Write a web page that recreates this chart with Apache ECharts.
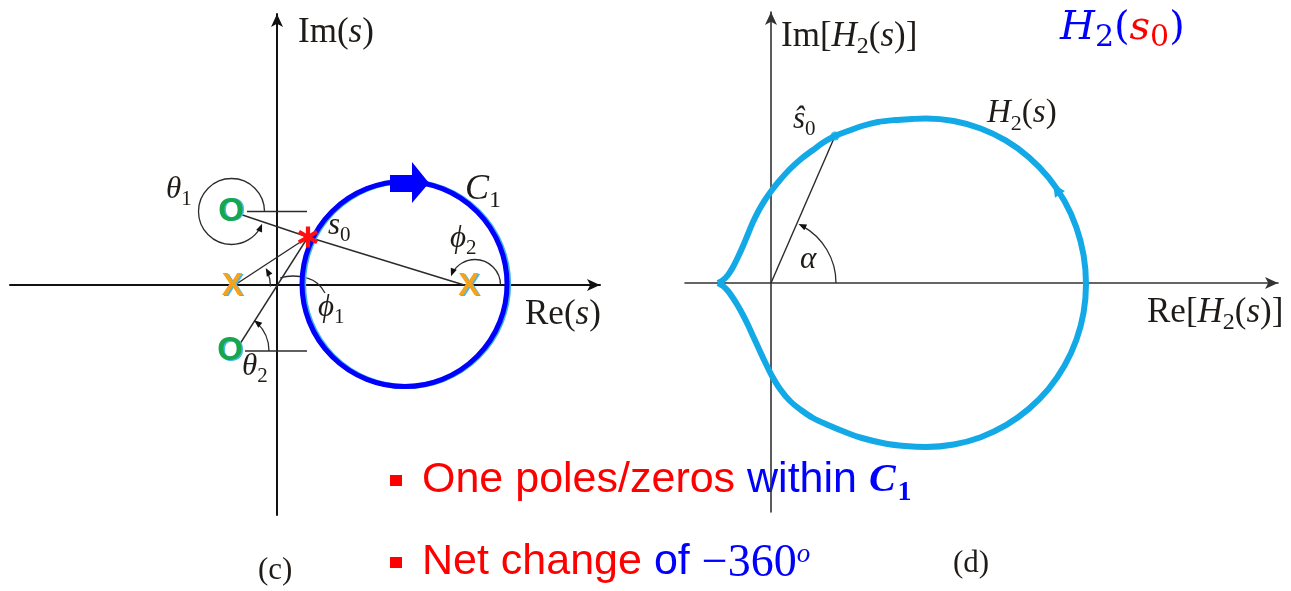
<!DOCTYPE html>
<html>
<head>
<meta charset="utf-8">
<script src="https://cdn.jsdelivr.net/npm/echarts@6/dist/echarts.min.js"></script>
<style>
  html, body { margin: 0; padding: 0; background: #fff; }
  #chart { width: 1291px; height: 591px; }
</style>
</head>
<body>
<div id="chart"></div>
<script>
// ---- Panel (c): s-plane, contour C1 -------------------------------------
const zerosC = [[-4.6, 7.35], [-4.7, -6.6]];
const polesC = [[-4.45, -0.15], [19.2, -0.15]];
const pointS0 = [[3.1, 4.8]];
const contourC1 = [[12.75, 0.1, 10.25]];            // centre x, centre y, radius
const contourArrow = [[11.3, 9.3, 13.5, 9.3, 13.5, 8.2, 15.2, 10.2, 13.5, 12.3, 13.5, 11.0, 11.3, 11.0]];
const segmentsC = [
  [-3.6, 7.05, 3.1, 4.8],     // zero 1 -> s0
  [19.2, -0.15, 3.1, 4.8],    // pole 2 -> s0
  [-4.45, -0.15, 3.1, 4.8],   // pole 1 -> s0
  [-3.9, -6.2, 3.1, 4.8],     // zero 2 -> s0
  [-3.0, 7.35, 3.0, 7.35],    // reference for theta 1
  [-3.2, -6.6, 3.0, -6.6]     // reference for theta 2
];
const anglesC = [               // centre x, centre y, radius, from deg, to deg
  [-4.55, 7.35, 3.3, 0, 338],
  [-4.45, -0.15, 3.8, 0, 29],
  [-4.7, -6.6, 3.9, 0, 52],
  [19.8, 0.0, 2.55, 0, 160]
];
const phi1Leader = [[0.3, 0.7], [1.6, 0.9], [3.0, 0.7], [4.0, 0.2], [4.8, -0.8]];

// ---- Panel (d): image of C1 under H2 (traversed counter-clockwise) -------
const h2Curve = [
  [-5.3, 0.0], [-4.8, -0.3], [-4.3, -0.8], [-3.8, -1.5], [-3.3, -2.3],
  [-2.8, -3.2], [-2.3, -4.2], [-1.8, -5.3], [-1.2, -6.6], [-0.6, -7.9],
  [0.1, -9.3], [0.9, -10.6], [1.9, -11.8], [3.0, -12.7], [4.2, -13.5],
  [5.7, -14.2], [7.4, -14.9], [9.1, -15.5], [11.4, -16.05], [13.4, -16.3],
  [15.5, -16.4], [18.28, -16.15], [20.97, -15.42], [23.5, -14.22], [25.78, -12.59],
  [27.76, -10.58], [29.36, -8.25], [30.54, -5.67], [31.26, -2.95], [31.5, -0.1],
  [31.26, 2.77], [30.54, 5.56], [29.36, 8.17], [27.76, 10.54], [25.78, 12.58],
  [23.5, 14.23], [20.97, 15.45], [18.28, 16.2], [15.5, 16.45], [14.1, 16.4],
  [12.4, 16.3], [10.7, 16.1], [9.1, 15.7], [7.7, 15.2], [6.4, 14.7],
  [5.3, 14.1], [4.2, 13.3], [3.0, 12.4], [1.9, 11.4], [0.9, 10.3],
  [0.1, 9.3], [-0.6, 8.3], [-1.2, 7.3], [-1.8, 6.1], [-2.3, 4.9],
  [-2.8, 3.7], [-3.3, 2.6], [-3.8, 1.6], [-4.3, 0.8], [-4.8, 0.3],
  [-5.3, 0.0]
];
const sHat0 = [[6.4, 14.7]];
const segmentsD = [[0, 0, 6.4, 14.7]];
const anglesD = [[0, 0, 6.5, 0, 65]];
const h2ArrowAt = 33;
const h2Arrow = [[...h2Curve[h2ArrowAt], ...h2Curve[h2ArrowAt - 1]]];

// ---- axis extents ---------------------------------------------------------
const extentC = { xMin: -26.7, xMax: 32.3, yMin: -23.0, yMax: 27.1 };
const extentD = { xMin: -8.6, xMax: 50.7, yMin: -22.9, yMax: 27.1 };

// ---- styling helpers ------------------------------------------------------
const SERIF = "'Liberation Serif', 'Times New Roman', serif";
const SANS = "'Liberation Sans', Arial, sans-serif";
const MATH = "'DejaVu Serif', serif";
const INK = '#1f1b18';
const LINE = '#2b2b2b';
const CURVE = '#12a9e6';
const BLUE = '#0000ff';
const RED = '#ff0000';

// rich-text tokens are top aligned; subscripts are pushed down with top padding
function serifRich(s) {
  const base = { fontFamily: SERIF, fontSize: s, verticalAlign: 'top', fill: INK };
  return {
    n: base,
    i: Object.assign({}, base, { fontStyle: 'italic' }),
    b: Object.assign({}, base, { fontSize: Math.round(s * 0.68), padding: [Math.round(s * 0.47), 0, 0, 0] })
  };
}

const labelsC = [
  { at: [2.1, 27.0], s: 35, text: '{n|Im(}{i|s}{n|)}' },
  { at: [24.8, -1.2], s: 35, text: '{n|Re(}{i|s}{n|)}' },
  { at: [-11.1, 11.1], s: 31, text: '{i|θ}{b|1}' },
  { at: [-3.5, -6.6], s: 31, text: '{i|θ}{b|2}' },
  { at: [4.1, -0.7], s: 31, text: '{i|ϕ}{b|1}' },
  { at: [17.3, 6.2], s: 31, text: '{i|ϕ}{b|2}' },
  { at: [5.1, 7.5], s: 31, text: '{i|s}{b|0}' },
  { at: [18.8, 11.3], s: 36, text: '{i|C}{b|1}' }
];
const labelsD = [
  { at: [1.0, 26.4], s: 35, text: '{n|Im[}{i|H}{b|2}{n|(}{i|s}{n|)]}' },
  { at: [37.6, -1.2], s: 35, text: '{n|Re[}{i|H}{b|2}{n|(}{i|s}{n|)]}' },
  { at: [2.2, 17.9], s: 31, text: '{i|ŝ}{b|0}' },
  { at: [21.6, 18.6], s: 33, text: '{i|H}{b|2}{n|(}{i|s}{n|)}' },
  { at: [2.9, 3.9], s: 31, text: '{i|α}' }
];

// ---- render functions -----------------------------------------------------
function segmentItem(params, api) {
  const a = api.coord([api.value(0), api.value(1)]);
  const b = api.coord([api.value(2), api.value(3)]);
  return { type: 'line', shape: { x1: a[0], y1: a[1], x2: b[0], y2: b[1] },
           style: { stroke: LINE, lineWidth: 1.4 } };
}

function arrowHead(tip, dir, len, half, color) {
  const nrm = [-dir[1], dir[0]];
  const base = [tip[0] - dir[0] * len, tip[1] - dir[1] * len];
  return { type: 'polygon',
           shape: { points: [tip, [base[0] + nrm[0] * half, base[1] + nrm[1] * half],
                                  [base[0] - nrm[0] * half, base[1] - nrm[1] * half]] },
           style: { fill: color } };
}

function angleItem(params, api) {
  const c = api.coord([api.value(0), api.value(1)]);
  const r = api.size([api.value(2), 0])[0];
  const a0 = api.value(3) * Math.PI / 180;
  const a1 = api.value(4) * Math.PI / 180;
  const tip = [c[0] + r * Math.cos(a1), c[1] - r * Math.sin(a1)];
  const dir = [-Math.sin(a1), -Math.cos(a1)];
  return { type: 'group', children: [
    { type: 'arc', shape: { cx: c[0], cy: c[1], r: r, startAngle: -a0, endAngle: -a1 + 4 / r, clockwise: false },
      style: { stroke: LINE, lineWidth: 1.3, fill: 'none' } },
    arrowHead(tip, dir, 8, 3.2, '#111')
  ] };
}

function circleItem(color, width, dx) {
  return function (params, api) {
    const c = api.coord([api.value(0), api.value(1)]);
    const r = api.size([api.value(2), 0])[0];
    return { type: 'circle', shape: { cx: c[0] + dx, cy: c[1], r: r },
             style: { fill: 'none', stroke: color, lineWidth: width } };
  };
}

function blockArrowItem(params, api) {
  const pts = [];
  for (let k = 0; k < 14; k += 2) pts.push(api.coord([api.value(k), api.value(k + 1)]));
  return { type: 'polygon', shape: { points: pts }, style: { fill: BLUE } };
}

function glyphItem(ch, color, size) {
  return function (params, api) {
    const p = api.coord([api.value(0), api.value(1)]);
    const st = { text: ch, fontFamily: SANS, fontWeight: 'bold', fontSize: size, align: 'center', verticalAlign: 'middle' };
    return { type: 'group', children: [
      { type: 'text', x: p[0] + 1.5, y: p[1] + 0.5, style: Object.assign({}, st, { fill: '#45b9ea' }) },
      { type: 'text', x: p[0], y: p[1], style: Object.assign({}, st, { fill: color }) }
    ] };
  };
}

function asteriskItem(params, api) {
  const p = api.coord([api.value(0), api.value(1)]);
  const arms = [90, 30, 150].map(function (deg) {
    const a = deg * Math.PI / 180, h = 10.5;
    return { type: 'line', shape: { x1: p[0] - h * Math.cos(a), y1: p[1] + h * Math.sin(a),
                                    x2: p[0] + h * Math.cos(a), y2: p[1] - h * Math.sin(a) },
             style: { stroke: '#ff1010', lineWidth: 4.2 } };
  });
  return { type: 'group', children: arms };
}

// direction marker placed midway along one segment of the curve
function curveArrowItem(params, api) {
  const p = api.coord([api.value(0), api.value(1)]);
  const q = api.coord([api.value(2), api.value(3)]);
  const d = Math.hypot(p[0] - q[0], p[1] - q[1]);
  const dir = [(p[0] - q[0]) / d, (p[1] - q[1]) / d];
  const mid = [(p[0] + q[0]) / 2, (p[1] + q[1]) / 2];
  const tip = [mid[0] + dir[0] * 6, mid[1] + dir[1] * 6];
  return arrowHead(tip, dir, 12, 6, CURVE);
}

function labelItem(list) {
  return function (params, api) {
    const L = list[params.dataIndex];
    const p = api.coord([api.value(0), api.value(1)]);
    return { type: 'text', x: p[0], y: p[1],
             style: { text: L.text, rich: serifRich(L.s), align: 'left', verticalAlign: 'top' } };
  };
}

function valueAxis(grid, ext, horizontal, color, width) {
  return {
    gridIndex: grid, type: 'value',
    min: horizontal ? ext.xMin : ext.yMin, max: horizontal ? ext.xMax : ext.yMax,
    axisLine: { onZero: true, symbol: ['none', 'arrow'], symbolSize: [9, 13],
                lineStyle: { color: color, width: width } },
    axisTick: { show: false }, axisLabel: { show: false }, splitLine: { show: false }
  };
}

// ---- captions ---------------------------------------------------------------
const sansTok = function (fill) {
  return { fill: fill, fontFamily: SANS, fontSize: 43, verticalAlign: 'top' };
};
const captionRich = {
  r: sansTok(RED),
  b: sansTok(BLUE),
  c: { fill: BLUE, fontFamily: SERIF, fontStyle: 'italic', fontWeight: 'bold', fontSize: 40, verticalAlign: 'top', padding: [2, 0, 0, 0] },
  c1: { fill: BLUE, fontFamily: SERIF, fontWeight: 'bold', fontSize: 28, verticalAlign: 'top', padding: [20, 0, 0, 2] },
  m: { fill: BLUE, fontFamily: SERIF, fontSize: 46, verticalAlign: 'top' },
  o: { fill: BLUE, fontFamily: SERIF, fontStyle: 'italic', fontSize: 27, verticalAlign: 'top' }
};
const titleRich = {
  h: { fill: BLUE, fontFamily: MATH, fontStyle: 'italic', fontSize: 40, verticalAlign: 'top' },
  t: { fill: BLUE, fontFamily: MATH, fontSize: 30, verticalAlign: 'top', padding: [14, 0, 0, 0] },
  p: { fill: BLUE, fontFamily: MATH, fontSize: 40, verticalAlign: 'top' },
  s: { fill: RED, fontFamily: MATH, fontStyle: 'italic', fontSize: 40, verticalAlign: 'top' },
  z: { fill: RED, fontFamily: MATH, fontSize: 30, verticalAlign: 'top', padding: [14, 0, 0, 0] }
};
const panelTag = { fill: INK, fontFamily: SERIF, fontSize: 31, align: 'left', verticalAlign: 'top' };

const chart = echarts.init(document.getElementById('chart'), null, { renderer: 'canvas' });
chart.setOption({
  animation: false,
  backgroundColor: '#ffffff',
  grid: [
    { left: 10, top: 14, width: 590, height: 501 },
    { left: 685, top: 12, width: 593, height: 500 }
  ],
  xAxis: [valueAxis(0, extentC, true, '#111', 2), valueAxis(1, extentD, true, '#333', 1.6)],
  yAxis: [valueAxis(0, extentC, false, '#111', 2), valueAxis(1, extentD, false, '#333', 1.6)],
  graphic: { elements: [
    { type: 'rect', shape: { x: 390, y: 475, width: 12, height: 11 }, style: { fill: RED } },
    { type: 'rect', shape: { x: 390, y: 557, width: 12, height: 11 }, style: { fill: RED } },
    { type: 'text', x: 422, y: 459, style: { text: '{r|One poles/zeros }{b|within }{c|C}{c1|1}', rich: captionRich, align: 'left', verticalAlign: 'top' } },
    { type: 'text', x: 422, y: 541, style: { text: '{r|Net change }{b|of }{m|−360}{o|o}', rich: captionRich, align: 'left', verticalAlign: 'top' } },
    { type: 'text', x: 1060, y: 9, style: { text: '{h|H}{t|2}{p|(}{s|s}{z|0}{p|)}', rich: titleRich, align: 'left', verticalAlign: 'top' } },
    { type: 'text', x: 258, y: 555, style: Object.assign({ text: '(c)' }, panelTag) },
    { type: 'text', x: 953, y: 548, style: Object.assign({ text: '(d)' }, panelTag) }
  ] },
  series: [
    // panel (c)
    { type: 'custom', xAxisIndex: 0, yAxisIndex: 0, data: segmentsC, renderItem: segmentItem, z: 3 },
    { type: 'custom', xAxisIndex: 0, yAxisIndex: 0, data: anglesC, renderItem: angleItem, z: 3 },
    { type: 'line', xAxisIndex: 0, yAxisIndex: 0, data: phi1Leader, smooth: 0.5, showSymbol: false,
      lineStyle: { color: LINE, width: 1.3 }, z: 3 },
    { type: 'custom', xAxisIndex: 0, yAxisIndex: 0, data: contourC1, renderItem: circleItem('#3fb4ea', 5, 1.6), z: 4 },
    { type: 'custom', xAxisIndex: 0, yAxisIndex: 0, data: contourC1, renderItem: circleItem(BLUE, 5, 0), z: 5 },
    { type: 'custom', xAxisIndex: 0, yAxisIndex: 0, data: contourArrow, renderItem: blockArrowItem, z: 6 },
    { type: 'custom', xAxisIndex: 0, yAxisIndex: 0, data: zerosC, renderItem: glyphItem('O', '#17a64b', 33), z: 7 },
    { type: 'custom', xAxisIndex: 0, yAxisIndex: 0, data: polesC, renderItem: glyphItem('X', '#f6a21c', 32), z: 7 },
    { type: 'custom', xAxisIndex: 0, yAxisIndex: 0, data: pointS0, renderItem: asteriskItem, z: 8 },
    { type: 'custom', xAxisIndex: 0, yAxisIndex: 0, data: labelsC.map(function (l) { return l.at; }), renderItem: labelItem(labelsC), z: 9 },
    // panel (d)
    { type: 'line', xAxisIndex: 1, yAxisIndex: 1, data: h2Curve, smooth: 0.35, showSymbol: false,
      lineStyle: { color: CURVE, width: 6 }, z: 4 },
    { type: 'custom', xAxisIndex: 1, yAxisIndex: 1, data: segmentsD, renderItem: segmentItem, z: 3 },
    { type: 'custom', xAxisIndex: 1, yAxisIndex: 1, data: anglesD, renderItem: angleItem, z: 3 },
    { type: 'scatter', xAxisIndex: 1, yAxisIndex: 1, data: sHat0, symbolSize: 9,
      itemStyle: { color: CURVE }, z: 5 },
    { type: 'custom', xAxisIndex: 1, yAxisIndex: 1, data: h2Arrow, renderItem: curveArrowItem, z: 5 },
    { type: 'custom', xAxisIndex: 1, yAxisIndex: 1, data: labelsD.map(function (l) { return l.at; }), renderItem: labelItem(labelsD), z: 9 }
  ]
});
</script>
</body>
</html>
